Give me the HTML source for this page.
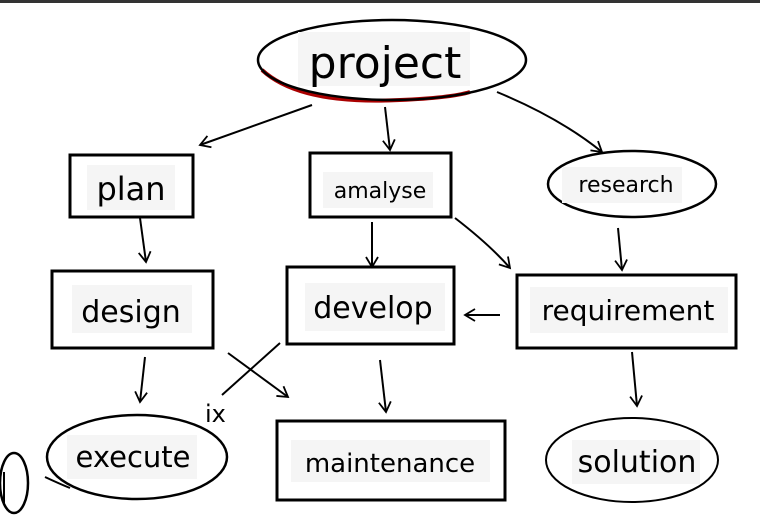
<!DOCTYPE html>
<html><head><meta charset="utf-8"><style>
html,body{margin:0;padding:0;background:#fff;}
svg{display:block;}
text{font-family:"DejaVu Sans","Liberation Sans",sans-serif;fill:#000;}
</style></head><body>
<svg width="760" height="518" viewBox="0 0 760 518" xmlns="http://www.w3.org/2000/svg">
<rect x="0" y="0" width="760" height="3" fill="#333"/>
<defs><marker id="a" markerWidth="14" markerHeight="14" refX="11" refY="7" orient="auto" markerUnits="userSpaceOnUse"><path d="M1,1 L11,7 L1,13" fill="none" stroke="#000" stroke-width="1.8"/></marker></defs>
<g fill="none" stroke="#000" stroke-width="2">
<!-- project -->
<path d="M262,70 Q300,105 400,100 Q450,98 470,92" stroke="#a00" stroke-width="4"/>
<ellipse cx="392" cy="60" rx="134" ry="40" stroke-width="2.5"/>
<rect x="70" y="155" width="123" height="62" stroke-width="3"/>
<rect x="310" y="153" width="141" height="64" stroke-width="3"/>
<ellipse cx="632" cy="184" rx="84" ry="33" stroke-width="2.5"/>
<rect x="52" y="271" width="161" height="77" stroke-width="3"/>
<rect x="287" y="267" width="167" height="77" stroke-width="3"/>
<rect x="517" y="275" width="219" height="73" stroke-width="3"/>
<ellipse cx="137" cy="457" rx="90" ry="42" stroke-width="2.5"/>
<rect x="277" y="421" width="228" height="79" stroke-width="3"/>
<ellipse cx="632" cy="460" rx="86" ry="42" stroke-width="2"/>
<ellipse cx="14" cy="483" rx="14" ry="30" stroke-width="2.5"/>
<path d="M4,472 L4,505" stroke-width="2"/>
<path d="M45,477 Q60,484 70,488" stroke-width="2"/>
<!-- arrows -->
<path d="M312,105 L200,145" marker-end="url(#a)"/>
<path d="M385,107 L390,150" marker-end="url(#a)"/>
<path d="M497,92 Q560,118 602,152" marker-end="url(#a)"/>
<path d="M140,218 L146,262" marker-end="url(#a)"/>
<path d="M372,222 L372,267" marker-end="url(#a)"/>
<path d="M455,218 Q490,245 510,268" marker-end="url(#a)"/>
<path d="M618,228 L622,270" marker-end="url(#a)"/>
<path d="M500,315 L465,315" marker-end="url(#a)"/>
<path d="M145,357 L140,402" marker-end="url(#a)"/>
<path d="M280,343 L222,395"/>
<path d="M228,353 L288,397" marker-end="url(#a)"/>
<path d="M380,360 L386,412" marker-end="url(#a)"/>
<path d="M632,352 L637,406" marker-end="url(#a)"/>
</g>
<g fill="#f5f5f5">
<rect x="298" y="32" width="172" height="54"/>
<rect x="87" y="165" width="88" height="45"/>
<rect x="323" y="172" width="110" height="36"/>
<rect x="562" y="167" width="120" height="36"/>
<rect x="72" y="285" width="120" height="48"/>
<rect x="305" y="283" width="140" height="48"/>
<rect x="530" y="287" width="198" height="46"/>
<rect x="67" y="435" width="130" height="44"/>
<rect x="291" y="440" width="199" height="42"/>
<rect x="572" y="440" width="128" height="44"/>
</g>
<text x="385" y="78" font-size="44" text-anchor="middle">project</text>
<text x="131" y="200" font-size="32" text-anchor="middle">plan</text>
<text x="380" y="198" font-size="22" text-anchor="middle">amalyse</text>
<text x="626" y="192" font-size="22" text-anchor="middle">research</text>
<text x="131" y="322" font-size="30" text-anchor="middle">design</text>
<text x="373" y="318" font-size="30" text-anchor="middle">develop</text>
<text x="628" y="320" font-size="28" text-anchor="middle">requirement</text>
<text x="133" y="467" font-size="29" text-anchor="middle">execute</text>
<text x="390" y="472" font-size="26" text-anchor="middle">maintenance</text>
<text x="637" y="472" font-size="30" text-anchor="middle">solution</text>
<text x="205" y="422" font-size="24">ix</text>
</svg>
</body></html>
